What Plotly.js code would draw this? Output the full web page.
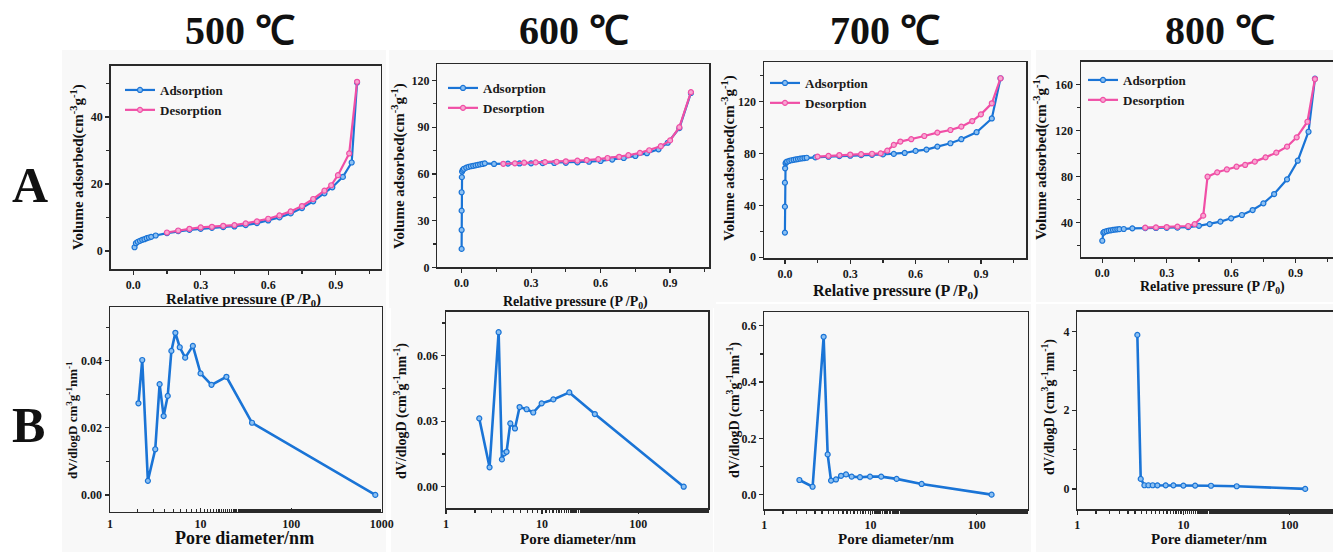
<!DOCTYPE html>
<html><head><meta charset="utf-8">
<script src="https://cdn.plot.ly/plotly-3.0.1.min.js"></script>
<style>html,body{margin:0;padding:0;background:#fff}#chart{width:1333px;height:552px}</style>
</head><body><div id="chart"></div><script>
// ---------- data ----------
const temps = ["500 ℃", "600 ℃", "700 ℃", "800 ℃"];
const seriesNames = ["Adsorption", "Desorption"];

const ads500X = [0.006,0.012,0.02,0.03,0.04,0.05,0.06,0.07,0.08,0.1,0.15,0.2,0.25,0.3,0.35,0.4,0.45,0.5,0.55,0.6,0.65,0.7,0.75,0.8,0.85,0.885,0.932,0.971,0.995];
const ads500Y = [1.1,2.3,2.7,3.0,3.3,3.5,3.8,4.0,4.2,4.6,5.3,5.9,6.3,6.6,6.9,7.1,7.3,7.7,8.3,9.1,10.0,11.2,12.8,14.8,17.2,19.0,22.1,26.4,50.3];
const des500X = [0.15,0.2,0.25,0.3,0.35,0.4,0.45,0.5,0.55,0.6,0.65,0.7,0.75,0.8,0.85,0.88,0.91,0.96,0.995];
const des500Y = [5.5,6.1,6.6,7.0,7.2,7.5,7.7,8.2,8.8,9.6,10.6,11.8,13.4,15.5,18.0,19.6,22.6,29.1,50.5];

const ads600X = [0.0,0.0,0.0,0.0,0.001,0.002,0.005,0.01,0.02,0.03,0.04,0.05,0.06,0.07,0.08,0.09,0.1,0.14,0.2,0.25,0.3,0.35,0.4,0.45,0.5,0.55,0.6,0.65,0.7,0.75,0.8,0.85,0.89,0.94,0.99];
const ads600Y = [11.8,24,36.4,48.2,57.9,61.5,62.6,63.3,64,64.5,64.9,65.2,65.5,65.8,66.1,66.4,66.8,66.4,66.6,66.7,66.8,66.9,67,67.1,67.4,67.8,68.3,69.2,70.2,71.5,73.3,75.8,80,89.4,112];
const des600X = [0.18,0.23,0.27,0.32,0.36,0.41,0.45,0.5,0.54,0.59,0.63,0.68,0.72,0.77,0.81,0.86,0.9,0.94,0.99];
const des600Y = [66.5,66.8,67.2,67.4,67.6,67.8,68.1,68.5,68.9,69.5,70.2,71,72,73.5,75.2,77.8,81.5,90,112.5];

const ads700X = [0.0,0.0,0.0,0.001,0.003,0.006,0.01,0.02,0.03,0.04,0.05,0.06,0.07,0.08,0.09,0.1,0.14,0.2,0.25,0.3,0.35,0.4,0.45,0.5,0.55,0.6,0.65,0.7,0.76,0.81,0.88,0.95,0.99];
const ads700Y = [19,39,57.5,68.6,72.5,73.2,73.8,74.3,74.8,75.1,75.4,75.7,76,76.2,76.5,76.7,77,77.5,78,78.3,78.7,79,79.3,79.7,80.4,82,83,85.3,87.9,91,96.4,107,138];
const des700X = [0.15,0.2,0.25,0.3,0.35,0.4,0.44,0.47,0.5,0.53,0.58,0.64,0.7,0.76,0.81,0.86,0.9,0.95,0.99];
const des700Y = [77.6,78.2,78.8,79.2,79.5,79.8,80.1,82.2,86.6,89.2,91,93.5,96.1,98.1,100.7,105,110.2,118.7,138];

const ads800X = [0.0,0.005,0.01,0.02,0.03,0.04,0.05,0.06,0.07,0.08,0.1,0.14,0.2,0.25,0.3,0.35,0.4,0.45,0.5,0.55,0.6,0.65,0.7,0.75,0.8,0.86,0.91,0.96,0.99];
const ads800Y = [24,31,31.8,32.3,32.8,33.1,33.4,33.7,33.9,34.1,34.2,34.8,35,35.1,35.2,35.4,35.8,37,38.5,40.6,43.5,46.4,50.7,56.5,64.6,77.4,93.6,118.8,165];
const des800X = [0.2,0.25,0.3,0.35,0.4,0.43,0.47,0.49,0.535,0.58,0.625,0.665,0.71,0.76,0.81,0.86,0.905,0.955,0.99];
const des800Y = [35.4,35.6,35.9,36.3,36.8,38.5,45.8,79.7,83.5,86,88.4,89.9,92.8,96.5,100.6,105.8,113.9,127.5,164.6];

const pore500X = [2.06,2.27,2.62,3.16,3.53,3.91,4.34,4.76,5.27,5.89,6.76,8.22,10.0,13.2,19.3,37,850];
const pore500Y = [0.0273,0.0402,0.0042,0.0136,0.033,0.0235,0.0295,0.0429,0.0483,0.044,0.0409,0.0444,0.0362,0.0328,0.0352,0.0215,0.0];
const pore600X = [2.22,2.84,3.53,3.82,4.04,4.27,4.67,5.22,5.83,6.9,8.09,9.9,13.1,19.2,35.4,298];
const pore600Y = [0.0313,0.0089,0.0708,0.0125,0.0153,0.016,0.029,0.0267,0.0365,0.0355,0.034,0.0382,0.040,0.0432,0.0333,0.0];
const pore700X = [2.14,2.85,3.62,3.95,4.25,4.73,5.28,5.88,6.65,7.96,9.9,12.6,17.6,30.3,138];
const pore700Y = [0.052,0.028,0.561,0.143,0.05,0.054,0.067,0.072,0.064,0.062,0.064,0.064,0.056,0.038,0.0];
const pore800X = [3.68,3.96,4.29,4.68,5.14,5.69,6.81,8.05,10,12.9,18.2,31.8,140.6];
const pore800Y = [3.91,0.254,0.093,0.093,0.093,0.09,0.09,0.09,0.085,0.085,0.08,0.068,0.0];

const logTickVals = [1, 10, 100, 1000];
const logTickText = ["1", "10", "100", "1000"];

// ---------- styling ----------
const W = 1333, H = 552;
const FONT = "Liberation Serif, Times New Roman, serif";
const BLUE = "#1a74d6", PINK = "#f04fa6";
const px = v => v / W, py = v => 1 - v / H;

// plot frames in pixels: [left, right, top, bottom]
const frames = [
  [110.7, 380.7, 65.7, 269], [437.3, 709, 64, 267.3], [764, 1026, 62.3, 258.3], [1081, 1333, 61.7, 257.3],
  [110, 381.7, 307.3, 511.7], [446, 708.3, 311.7, 508.3], [764.3, 1027.7, 312.3, 509], [1077.3, 1333, 311.7, 509]
];
const xRanges = [[-0.1,1.1],[-0.105,1.068],[-0.096,1.107],[-0.099,1.074],[0,3],[0,2.73],[0,2.48],[0,2.41]];
const yRanges = [[-5.4,55.3],[0,130.6],[-0.8,150.3],[9.6,179.7],[-0.005,0.0559],[-0.0099,0.0802],[-0.051,0.648],[-0.51,4.5]];
const yDticks = [20,30,40,40,0.02,0.03,0.2,2];
const yFormats = ["d","d","d","d",".2f",".2f",".1f","d"];

const adsX = [ads500X, ads600X, ads700X, ads800X], adsY = [ads500Y, ads600Y, ads700Y, ads800Y];
const desX = [des500X, des600X, des700X, des800X], desY = [des500Y, des600Y, des700Y, des800Y];
const poreX = [pore500X, pore600X, pore700X, pore800X], poreY = [pore500Y, pore600Y, pore700Y, pore800Y];

const traces = [];
const layout = {
  width: W, height: H, margin: {l:0,r:0,t:0,b:0},
  paper_bgcolor: "#ffffff", plot_bgcolor: "rgba(0,0,0,0)",
  showlegend: true, font: {family: FONT, color: "#1a1a1a"},
  annotations: [], shapes: []
};

// light panel backgrounds
const panelsBg = [[62,386,50,305],[389,716,50,308],[712,1031,50,302],[1036,1333,50,302],
                  [62,386,303,552],[391,713,308,552],[714,1031,304,552],[1036,1333,304,552]];
panelsBg.forEach(b => layout.shapes.push({type:"rect", xref:"paper", yref:"paper", layer:"below",
  x0:px(b[0]), x1:px(b[1]), y0:py(b[3]), y1:py(b[2]), fillcolor:"#f8f8f8", line:{width:0}}));

for (let i = 0; i < 8; i++) {
  const n = i + 1;
  const xa = "xaxis" + (n === 1 ? "" : n), ya = "yaxis" + (n === 1 ? "" : n);
  const f = frames[i];
  const isLog = i >= 4;
  const xTickDir = (i === 4) ? "inside" : "outside";
  layout[xa] = {
    domain: [px(f[0]), px(f[1])], anchor: "y" + (n === 1 ? "" : n), range: xRanges[i],
    type: isLog ? "log" : "linear",
    showline: true, linecolor: "#2a2a2a", linewidth: 1.5, mirror: true,
    ticks: xTickDir, ticklen: 4, tickwidth: 1.2, tickcolor: "#2a2a2a",
    showgrid: false, zeroline: false,
    tickfont: {family: FONT, size: 12, weight: "bold", color: "#1a1a1a"},
    minor: isLog ? {ticks: xTickDir, ticklen: 3, tickcolor: "#2a2a2a", showgrid: false}
                 : {ticks: "outside", ticklen: 3, dtick: 0.15, tickcolor: "#2a2a2a", showgrid: false}
  };
  if (isLog) { layout[xa].tickvals = logTickVals; layout[xa].ticktext = logTickText; }
  else { layout[xa].tickvals = [0, 0.3, 0.6, 0.9]; layout[xa].tickformat = ".1f"; }
  layout[ya] = {
    domain: [py(f[3]), py(f[2])], anchor: "x" + (n === 1 ? "" : n), range: yRanges[i],
    showline: true, linecolor: "#2a2a2a", linewidth: 1.5, mirror: true,
    ticks: "outside", ticklen: 4, tickwidth: 1.2, tickcolor: "#2a2a2a",
    showgrid: false, zeroline: false, dtick: yDticks[i], tick0: 0, tickformat: yFormats[i],
    tickfont: {family: FONT, size: 12, weight: "bold", color: "#1a1a1a"},
    minor: {ticks: "outside", ticklen: 3, dtick: yDticks[i] / 2, tickcolor: "#2a2a2a", showgrid: false}
  };
}

// isotherm traces with one legend per panel
const legendPos = [[120, 75], [443, 73], [765, 68], [1083, 65]];
for (let i = 0; i < 4; i++) {
  const n = i + 1, sfx = n === 1 ? "" : n;
  const lg = "legend" + sfx;
  traces.push({x: adsX[i], y: adsY[i], xaxis: "x" + sfx, yaxis: "y" + sfx, name: seriesNames[0], legend: lg,
    type: "scatter", mode: "lines+markers", line: {color: BLUE, width: 2.2},
    marker: {symbol: "circle", size: 5, color: "#8cc0f2", line: {color: BLUE, width: 1.2}}});
  traces.push({x: desX[i], y: desY[i], xaxis: "x" + sfx, yaxis: "y" + sfx, name: seriesNames[1], legend: lg,
    type: "scatter", mode: "lines+markers", line: {color: PINK, width: 2.2},
    marker: {symbol: "circle", size: 5, color: "#f8a6d2", line: {color: PINK, width: 1.2}}});
  layout[lg] = {x: px(legendPos[i][0]), y: py(legendPos[i][1]), xanchor: "left", yanchor: "top",
    bgcolor: "rgba(0,0,0,0)", borderwidth: 0, itemwidth: 30, tracegroupgap: 0,
    font: {family: FONT, size: 13, weight: "bold", color: "#1a1a1a"}};
}
// pore size distribution traces
for (let i = 0; i < 4; i++) {
  const n = i + 5;
  traces.push({x: poreX[i], y: poreY[i], xaxis: "x" + n, yaxis: "y" + n, showlegend: false,
    type: "scatter", mode: "lines+markers", line: {color: BLUE, width: 2.6},
    marker: {symbol: "circle", size: 5, color: "#8cc0f2", line: {color: BLUE, width: 1.2}}});
}

function ann(text, x, y, size, angle) {
  layout.annotations.push({text, xref: "paper", yref: "paper", x: px(x), y: py(y),
    xanchor: "center", yanchor: "middle", showarrow: false, textangle: angle || 0,
    font: {family: FONT, size, weight: "bold", color: "#111"}});
}
// headers
ann(temps[0], 240, 30, 40); ann(temps[1], 574, 30, 40); ann(temps[2], 885, 30, 40); ann(temps[3], 1220, 30, 40);
ann("A", 30, 185, 50); ann("B", 28, 425, 50);
// top-row axis titles
const vol = "Volume adsorbed(cm<sup>-3</sup>g<sup>-1</sup>)";
const rp = "Relative pressure (P /P<sub>0</sub>)";
ann(vol, 77, 167, 15, -90); ann(vol, 398, 166, 15, -90); ann(vol, 729, 158, 15, -90); ann(vol, 1040, 157, 15, -90);
ann(rp, 243, 300, 15); ann(rp, 575, 302, 14); ann(rp, 895, 291, 16); ann(rp, 1212, 287, 14);
// bottom-row axis titles
const pd = "Pore diameter/nm";
ann(pd, 244, 538, 18); ann(pd, 578, 539, 15); ann(pd, 896, 539, 15); ann(pd, 1209, 539, 15);
ann("dV/dlogD cm<sup>3</sup>g<sup>-1</sup>nm<sup>-1</sup>", 72, 420, 13, -90);
const dv = "dV/dlogD (cm<sup>3</sup>g<sup>-1</sup>nm<sup>-1</sup>)";
ann(dv, 400, 411, 14, -90); ann(dv, 733, 410, 14, -90); ann(dv, 1048, 407, 14, -90);

Plotly.newPlot("chart", traces, layout, {staticPlot: true, displayModeBar: false});
</script></body></html>
